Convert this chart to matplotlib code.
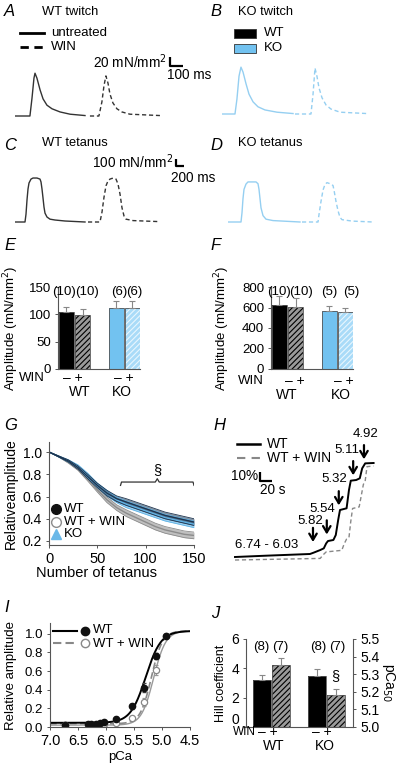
import numpy as np
import matplotlib.pyplot as plt
from matplotlib.patches import Rectangle

plt.rcParams['font.family'] = ['Liberation Sans', 'DejaVu Sans']
plt.rcParams['font.size'] = 9
plt.rcParams['hatch.linewidth'] = 0.8

# ---- A/B twitch traces (ms, mN/mm2)
wt_twitch_t = [0, 115, 131, 146, 154, 169, 193, 216, 246, 285, 347, 424, 539]
wt_twitch_f = [0, 0, 40, 84, 95, 84, 58, 38, 24, 16, 9, 4, 1]
wt_twitch_win_t = [0, 69, 92, 108, 123, 139, 154, 177, 208, 246, 308, 539]
wt_twitch_win_f = [0, 0, 31, 67, 89, 73, 49, 29, 16, 9, 4, 1]
ko_twitch_t = [0, 100, 115, 131, 146, 162, 185, 208, 239, 277, 331, 424, 547]
ko_twitch_f = [0, 0, 33, 84, 104, 93, 67, 44, 27, 16, 9, 4, 1]
ko_twitch_win_t = [0, 123, 139, 154, 169, 185, 208, 239, 277, 347, 554]
ko_twitch_win_f = [0, 0, 44, 102, 84, 58, 36, 20, 11, 4, 1]

# ---- C/D tetanus traces (ms, mN/mm2)
wt_tet_t = [0, 250, 275, 300, 325, 350, 400, 450, 550, 625, 650, 675, 700, 725, 750, 800, 875, 1000, 1250, 1750]
wt_tet_f = [0, 0, 110, 310, 465, 550, 605, 620, 620, 605, 565, 465, 340, 210, 125, 70, 40, 28, 14, 0]
wt_tet_win_t = [0, 300, 350, 400, 450, 500, 550, 600, 675, 700, 750, 800, 850, 900, 950, 1125, 1800]
wt_tet_win_f = [0, 0, 140, 350, 510, 580, 605, 615, 615, 605, 535, 395, 200, 85, 40, 20, 5]
ko_tet_t = [0, 325, 350, 375, 400, 450, 500, 700, 750, 775, 800, 825, 875, 950, 1125, 1800]
ko_tet_f = [0, 0, 130, 330, 460, 535, 565, 565, 540, 460, 330, 200, 90, 40, 20, 0]
ko_tet_win_t = [0, 400, 425, 475, 525, 575, 625, 700, 775, 800, 850, 900, 950, 1000, 1250, 1775]
ko_tet_win_f = [0, 0, 105, 290, 450, 530, 555, 540, 515, 450, 290, 160, 65, 33, 13, 0]

# ---- E/F amplitudes
groups = ['WT', 'KO']
twitch_amp = [104, 99, 111, 111]
twitch_err = [10, 11, 13, 14]
twitch_n = ['(10)', '(10)', '(6)', '(6)']
tet_amp = [620, 605, 565, 555]
tet_err = [90, 90, 45, 45]
tet_n = ['(10)', '(10)', '(5)', '(5)']

# ---- G fatigue
tet_num = [0, 10, 20, 30, 40, 50, 60, 70, 80, 90, 100, 110, 120, 130, 140, 150]
fat_wt = [1.0, 0.96, 0.92, 0.86, 0.78, 0.70, 0.63, 0.58, 0.55, 0.52, 0.49, 0.46, 0.43, 0.41, 0.39, 0.37]
fat_wt_sem = [0.0, 0.005, 0.01, 0.015, 0.02, 0.02, 0.025, 0.025, 0.03, 0.03, 0.03, 0.03, 0.03, 0.03, 0.03, 0.03]
fat_win = [1.0, 0.96, 0.91, 0.85, 0.76, 0.66, 0.57, 0.50, 0.45, 0.41, 0.37, 0.33, 0.30, 0.28, 0.26, 0.25]
fat_win_sem = [0.0, 0.005, 0.01, 0.015, 0.02, 0.02, 0.025, 0.025, 0.03, 0.03, 0.03, 0.03, 0.03, 0.03, 0.03, 0.03]
fat_ko = [1.0, 0.96, 0.92, 0.87, 0.79, 0.70, 0.63, 0.57, 0.53, 0.50, 0.47, 0.44, 0.41, 0.39, 0.37, 0.35]
fat_ko_sem = [0.0, 0.005, 0.01, 0.015, 0.02, 0.02, 0.025, 0.025, 0.03, 0.03, 0.03, 0.03, 0.03, 0.03, 0.03, 0.03]

# ---- H skinned fibre trace (s, % of max)
h_wt_t = [0, 52, 125, 131, 142, 148, 152, 155, 164, 168, 172, 175, 186, 190, 193, 202, 208, 212, 217, 231]
h_wt_a = [0, 1.4, 3.2, 4.6, 7.4, 9.2, 14.5, 17, 18.1, 23.4, 39.4, 50, 51.8, 71.3, 81.2, 81.9, 83.7, 94.3, 99.6, 100]
h_win_t = [0, 142, 148, 152, 178, 182, 186, 190, 193, 196, 207, 211, 214, 217, 220, 231]
h_win_a = [0, 1.7, 6.2, 8.6, 10.3, 17.2, 22.3, 24, 41.1, 54.8, 56.5, 70.2, 80.4, 83.9, 99.3, 100]
h_pca_labels = ['5.82', '5.54', '5.32', '5.11', '4.92']
h_arrow_t = [130, 153, 173, 197, 215]
h_arrow_a = [13, 21, 52, 84, 101]
h_label_t = [125, 146, 165, 186, 217]
h_label_a = [38, 51, 83, 114, 131]

# ---- I force-pCa
pca_wt = [6.74, 6.33, 6.26, 6.18, 6.11, 6.03, 5.82, 5.54, 5.32, 5.11, 4.92]
rel_wt = [0.02, 0.03, 0.035, 0.035, 0.04, 0.05, 0.09, 0.22, 0.42, 0.76, 0.98]
rel_wt_err = [0.01, 0.01, 0.01, 0.01, 0.01, 0.01, 0.02, 0.03, 0.05, 0.03, 0.02]
pca_win = [6.74, 6.33, 6.26, 6.18, 6.11, 6.03, 5.82, 5.54, 5.32, 5.11, 4.92]
rel_win = [0.02, 0.02, 0.025, 0.025, 0.03, 0.03, 0.04, 0.10, 0.27, 0.61, 0.98]
rel_win_err = [0.01, 0.01, 0.01, 0.01, 0.01, 0.01, 0.01, 0.02, 0.04, 0.05, 0.02]
# Hill fit parameters: base, top, pCa50, n
fit_wt = [0.045, 1.03, 5.29, 3.2]
fit_win = [0.035, 1.03, 5.19, 4.4]
fit_win_solid = [0.02, 1.03, 5.15, 4.0]

# ---- J Hill coefficient / pCa50
hill_vals = [3.2, 4.2, 3.5, 2.15]
hill_err = [0.35, 0.5, 0.45, 0.45]
hill_n = ['(8)', '(7)', '(8)', '(7)']

W, H = 400, 763
BLUE = '#72c2f0'
LBLUE = '#95cff1'
DARK = '#1d3550'
GRAY = '#8c8c8c'

fig = plt.figure(figsize=(4, 7.63), dpi=100)


def box(l, t, r, b):
    return [l / W, 1 - b / H, (r - l) / W, (b - t) / H]


def trace_axes(l, t, r, b, base, ms_px, mn_px):
    ax = fig.add_axes(box(l, t, r, b))
    ax.set_xlim(0, (r - l) * ms_px)
    ax.set_ylim(-(b - base) * mn_px, (base - t) * mn_px)
    ax.axis('off')
    return ax


def style(ax, size=9.5):
    for s in ['top', 'right']:
        ax.spines[s].set_visible(False)
    for s in ['left', 'bottom']:
        ax.spines[s].set_color('#555')
        ax.spines[s].set_linewidth(0.8)
    ax.tick_params(length=2.5, width=0.7, color='#555', labelsize=size, pad=2.5)
    ax.patch.set_alpha(0)


def ylabel_at(ax, text, x_px, l, r, size=9.5, rot=90):
    ax.set_ylabel(text, fontsize=size, rotation=rot)
    ax.yaxis.label.set_va('center')
    ax.yaxis.label.set_ha('center')
    ax.yaxis.set_label_coords((x_px - l) / (r - l), 0.5)


def bars(ax, pos, vals, errs, faces, hatches, hcols, width):
    for x, v, fc, h, hc in zip(pos, vals, faces, hatches, hcols):
        ax.bar(x, v, width, color=fc, hatch=h, edgecolor=hc, linewidth=0)
        ax.bar(x, v, width, fill=False, edgecolor='#555', linewidth=0.6)
    ax.errorbar(pos, vals, yerr=[np.zeros(len(vals)), errs], fmt='none',
                ecolor='#888', elinewidth=0.8, capsize=2, capthick=0.8)


# A / B twitch
for l, base, c, d in [(15, 116, '#333333', (wt_twitch_t, wt_twitch_f, wt_twitch_win_t, wt_twitch_win_f, 577)),
                      (222, 114, LBLUE, (ko_twitch_t, ko_twitch_f, ko_twitch_win_t, ko_twitch_win_f, 562))]:
    ax = trace_axes(l, 50, l + 180, 125, base, 7.7, 2.22)
    ax.plot(d[0], d[1], color=c, lw=1.0)
    ax.plot(np.array(d[2]) + d[4], d[3], color=c, lw=1.0, ls=(0, (3, 2)))
    if l == 15:
        x0, y0 = (170 - 15) * 7.7, (116 - 66) * 2.22
        ax.plot([x0, x0, x0 + 100], [y0 + 20, y0, y0], color='k', lw=1.6, solid_capstyle='butt')

# C / D tetanus
for l, c, d in [(15, '#333333', (wt_tet_t, wt_tet_f, wt_tet_win_t, wt_tet_win_f, 1825)),
                (228, LBLUE, (ko_tet_t, ko_tet_f, ko_tet_win_t, ko_tet_win_f, 1850))]:
    ax = trace_axes(l, 150, l + 170, 230, 222, 25, 14.1)
    ax.plot(d[0], d[1], color=c, lw=1.0)
    ax.plot(np.array(d[2]) + d[4], d[3], color=c, lw=1.0, ls=(0, (3, 2)))
    if l == 15:
        x0, y0 = (176 - 15) * 25, (222 - 166) * 14.1
        ax.plot([x0, x0, x0 + 200], [y0 + 100, y0, y0], color='k', lw=1.6, solid_capstyle='butt')

# E / F bars
pos = [0.55, 1.6, 3.8, 4.85]
faces = ['black', '#9a9a9a', BLUE, '#a9dbf8']
hatches = [None, '//////', None, '//////']
hcols = ['black', 'black', BLUE, '#e8f6fe']
for box_px, vals, errs, top, ticks, lab_x in [
        ((58, 287, 140, 369), twitch_amp, twitch_err, 150, [0, 50, 100, 150], 11),
        ((271, 287, 353, 369), tet_amp, tet_err, 800, [0, 200, 400, 600, 800], 222)]:
    ax = fig.add_axes(box(*box_px))
    bars(ax, pos, vals, errs, faces, hatches, hcols, 1.0)
    style(ax)
    ax.set_xlim(0, 5.35)
    ax.set_ylim(0, top)
    ax.set_yticks(ticks)
    ax.set_xticks([])
    ylabel_at(ax, 'Amplitude (mN/mm$^2$)', lab_x, box_px[0], box_px[2])

# G fatigue
ax = fig.add_axes(box(49, 442, 194, 545))
style(ax, 10)
ax.tick_params(axis='x', labelsize=10.5)
for y, s, c, a in [(fat_win, fat_win_sem, GRAY, 0.55), (fat_ko, fat_ko_sem, '#5fb3e6', 0.6),
                   (fat_wt, fat_wt_sem, DARK, 0.55)]:
    y, s = np.array(y), np.array(s)
    ax.fill_between(tet_num, y - s, y + s, color=c, alpha=a, lw=0)
    ax.plot(tet_num, y, color=c, lw=1.0)
    ax.plot(tet_num, y + s, color=c, lw=0.6)
    ax.plot(tet_num, y - s, color=c, lw=0.6)
ax.set_xlim(0, 150)
ax.set_ylim(0.164, 1.09)
ax.set_xticks([0, 50, 100, 150])
ax.set_yticks([0.2, 0.4, 0.6, 0.8, 1.0])
ax.set_yticklabels(['0.2', '0.4', '0.6', '0.8', '1.0'])
ax.set_xlabel('Number of tetanus', fontsize=10.5)
ax.xaxis.set_label_coords((96 - 49) / 145, (545 - 566) / 103)
ylabel_at(ax, 'Relativeamplitude', 11, 49, 194, size=10)
ax.plot([74, 75, 110, 112, 114, 149, 150], [0.70, 0.73, 0.73, 0.76, 0.73, 0.73, 0.70], color='#333', lw=0.9)
ax.text(112, 0.84, '\u00a7', ha='center', va='center', fontsize=10.5)

# H trace
axh = fig.add_axes(box(225, 430, 395, 575))
axh.axis('off')
axh.set_xlim((225 - 235) * 1.667, (395 - 235) * 1.667)
axh.set_ylim((557 - 575) / 0.94, (557 - 430) / 0.94)
axh.plot(h_win_t, np.array(h_win_a) - 3.2, color='#888', lw=1.0, ls=(0, (3, 2)))
axh.plot(h_wt_t, h_wt_a, color='k', lw=1.4)
for lab, t, a, lt, la in zip(h_pca_labels, h_arrow_t, h_arrow_a, h_label_t, h_label_a):
    axh.annotate('', xy=(t, a), xytext=(t, a + 21),
                 arrowprops=dict(arrowstyle='->,head_length=0.5,head_width=0.3', lw=1.6, color='k'))
    axh.text(lt, la, lab, ha='center', va='center', fontsize=9.5)
axh.text(53, 13, '6.74 - 6.03', ha='center', va='center', fontsize=9.5)
x0, y0 = (260 - 235) * 1.667, (557 - 481) / 0.94
axh.plot([x0, x0, x0 + 20], [y0 + 10, y0, y0], color='k', lw=1.6, solid_capstyle='butt')

# I force-pCa
ax = fig.add_axes(box(50, 623, 190, 727))
style(ax, 9.5)
ax.tick_params(axis='x', labelsize=10.5)
pgrid = np.linspace(7.0, 4.5, 200)
for p, c, ls, lw in [(fit_win_solid, '#999', '-', 1.0), (fit_win, '#888', (0, (4, 2)), 1.2), (fit_wt, 'k', '-', 1.4)]:
    ax.plot(pgrid, p[0] + (p[1] - p[0]) / (1 + 10 ** (p[3] * (pgrid - p[2]))), color=c, ls=ls, lw=lw)
ax.errorbar(pca_win, rel_win, yerr=rel_win_err, fmt='o', ms=4.5, mfc='white', mec='#888',
            ecolor='#999', elinewidth=0.7, capsize=1.5, mew=0.9)
ax.errorbar(pca_wt, rel_wt, yerr=rel_wt_err, fmt='o', ms=4.5, mfc='#111', mec='#111',
            ecolor='#444', elinewidth=0.7, capsize=1.5)
ax.set_xlim(7.0, 4.5)
ax.set_ylim(0, 1.115)
ax.set_xticks([7.0, 6.5, 6.0, 5.5, 5.0, 4.5])
ax.set_xticklabels(['7.0', '6.5', '6.0', '5.5', '5.0', '4.5'])
ax.set_yticks([0, 0.2, 0.4, 0.6, 0.8, 1.0])
ax.set_yticklabels(['0.0', '0.2', '0.4', '0.6', '0.8', '1.0'])
ax.set_xlabel('pCa', fontsize=9.5, labelpad=2)
ylabel_at(ax, 'Relative amplitude', 11, 50, 190)

# J Hill coefficient / pCa50
ax = fig.add_axes(box(246, 639, 353, 727))
jpos = [0.89, 1.92, 3.94, 4.97]
bars(ax, jpos, hill_vals, hill_err, ['black', '#9a9a9a', 'black', '#9a9a9a'],
     [None, '//////', None, '//////'], ['black', 'black', 'black', 'black'], 1.0)
style(ax, 10)
ax.set_xlim(0, 5.94)
ax.set_ylim(0, 6)
ax.set_yticks([0, 2, 4, 6])
ax.get_yticklabels()[0].set_va('bottom')
ax.set_xticks([])
ax.text(jpos[3], 3.45, '\u00a7', ha='center', va='center', fontsize=10.5)
ylabel_at(ax, 'Hill coefficient', 221, 246, 353, size=9)
ax2 = ax.twinx()
ax2.set_ylim(5.0, 5.5)
ax2.set_yticks([5.0, 5.1, 5.2, 5.3, 5.4, 5.5])
ax2.set_yticklabels(['5.0', '5.1', '5.2', '5.3', '5.4', '5.5'])
for s in ['top', 'left', 'bottom']:
    ax2.spines[s].set_visible(False)
ax2.spines['right'].set_color('#555')
ax2.spines['right'].set_linewidth(0.8)
ax2.tick_params(length=2.5, width=0.7, color='#555', labelsize=10, pad=2.5)
ylabel_at(ax2, 'pCa$_{50}$', 389, 246, 353, size=10, rot=270)

# overlay for labels, legends and annotation text
ov = fig.add_axes([0, 0, 1, 1], zorder=10)
ov.set_xlim(0, W)
ov.set_ylim(H, 0)
ov.axis('off')
ov.patch.set_alpha(0)

for lab, x, y in [('A', 4, 12), ('B', 210, 12), ('C', 4, 145), ('D', 210, 145), ('E', 4, 245),
                  ('F', 210, 245), ('G', 4, 425), ('H', 213, 425), ('I', 4, 608), ('J', 211, 613)]:
    ov.text(x, y, lab, fontsize=12, style='italic', ha='left', va='center')
for t, x, y in [('WT twitch', 42, 12), ('KO twitch', 238, 12), ('WT tetanus', 42, 143), ('KO tetanus', 238, 143)]:
    ov.text(x, y, t, fontsize=9.3, ha='left', va='center')

# legend A
ov.plot([20, 44], [33, 33], color='k', lw=2)
ov.plot([20, 44], [47, 47], color='k', lw=2, ls=(0, (3, 2)))
ov.text(51, 33, 'untreated', fontsize=9.5, va='center')
ov.text(51, 47, 'WIN', fontsize=9.5, va='center')
# legend B
ov.add_patch(Rectangle((234, 29), 22, 8.5, facecolor='black', edgecolor='#333', lw=0.6))
ov.add_patch(Rectangle((234, 44), 22, 8.5, facecolor=BLUE, edgecolor='#333', lw=0.6))
ov.text(264, 33, 'WT', fontsize=9.5, va='center')
ov.text(264, 48, 'KO', fontsize=9.5, va='center')

# scale bar labels
ov.text(167, 62, '20 mN/mm$^2$', fontsize=9.8, ha='right', va='center')
ov.text(167, 75, '100 ms', fontsize=9.8, ha='left', va='center')
ov.text(173, 162, '100 mN/mm$^2$', fontsize=9.8, ha='right', va='center')
ov.text(171, 178, '200 ms', fontsize=9.8, ha='left', va='center')

# n counts above bars
for labels, xs, y in [(twitch_n, [64, 87, 119.5, 134.5], 292),
                      (tet_n, [278.5, 301.5, 329, 351], 292),
                      (hill_n, [261, 280, 318, 337], 647)]:
    for x, n in zip(xs, labels):
        ov.text(x, y, n, fontsize=9.5, ha='center', va='center')

# E / F / J category labels
for xw, y, fs, items in [(19, 378, 9.5, [(72.5, 124), (80, 122)]),
                         (238, 381, 9.5, [(294.5, 344), (287, 341)]),
                         (233, 732, 8.5, [(268, 322), (274, 325)])]:
    ov.text(xw, y, 'WIN', fontsize=fs, ha='left', va='center')
    for xc in items[0]:
        ov.text(xc, y, '\u2013 +', fontsize=10, ha='center', va='center')
    for xc, g in zip(items[1], groups):
        ov.text(xc, y + 14, g, fontsize=10, ha='center', va='center')

# legend G
ov.plot(56, 509, 'o', ms=7, color='#111')
ov.plot(56, 522, 'o', ms=7, mfc='white', mec=GRAY, mew=1)
ov.plot(56, 534, '^', ms=7, color='#6ab8e8')
ov.text(64, 509, 'WT', fontsize=9.5, va='center')
ov.text(64, 522, 'WT + WIN', fontsize=9.5, va='center')
ov.text(64, 534, 'KO', fontsize=9.5, va='center')

# legend H
ov.plot([237, 260], [444, 444], color='k', lw=1.8)
ov.plot([237, 260], [458, 458], color='#888', lw=1.5, ls=(0, (4, 3)))
ov.text(267, 444, 'WT', fontsize=10, va='center')
ov.text(267, 458, 'WT + WIN', fontsize=10, va='center')
ov.text(258, 476, '10%', fontsize=9.8, ha='right', va='center')
ov.text(260, 490, '20 s', fontsize=9.8, ha='left', va='center')

# legend I
ov.plot([53, 77], [631, 631], color='k', lw=1.5)
ov.plot([53, 77], [643, 643], color='#888', lw=1.5, ls=(0, (4, 2)))
ov.plot(85, 631, 'o', ms=6, color='#111')
ov.plot(85, 643, 'o', ms=6, mfc='white', mec='#888', mew=1)
ov.text(93, 630, 'WT', fontsize=9.5, va='center')
ov.text(93, 644, 'WT + WIN', fontsize=9.5, va='center')

fig.savefig('out.png', dpi=100)
